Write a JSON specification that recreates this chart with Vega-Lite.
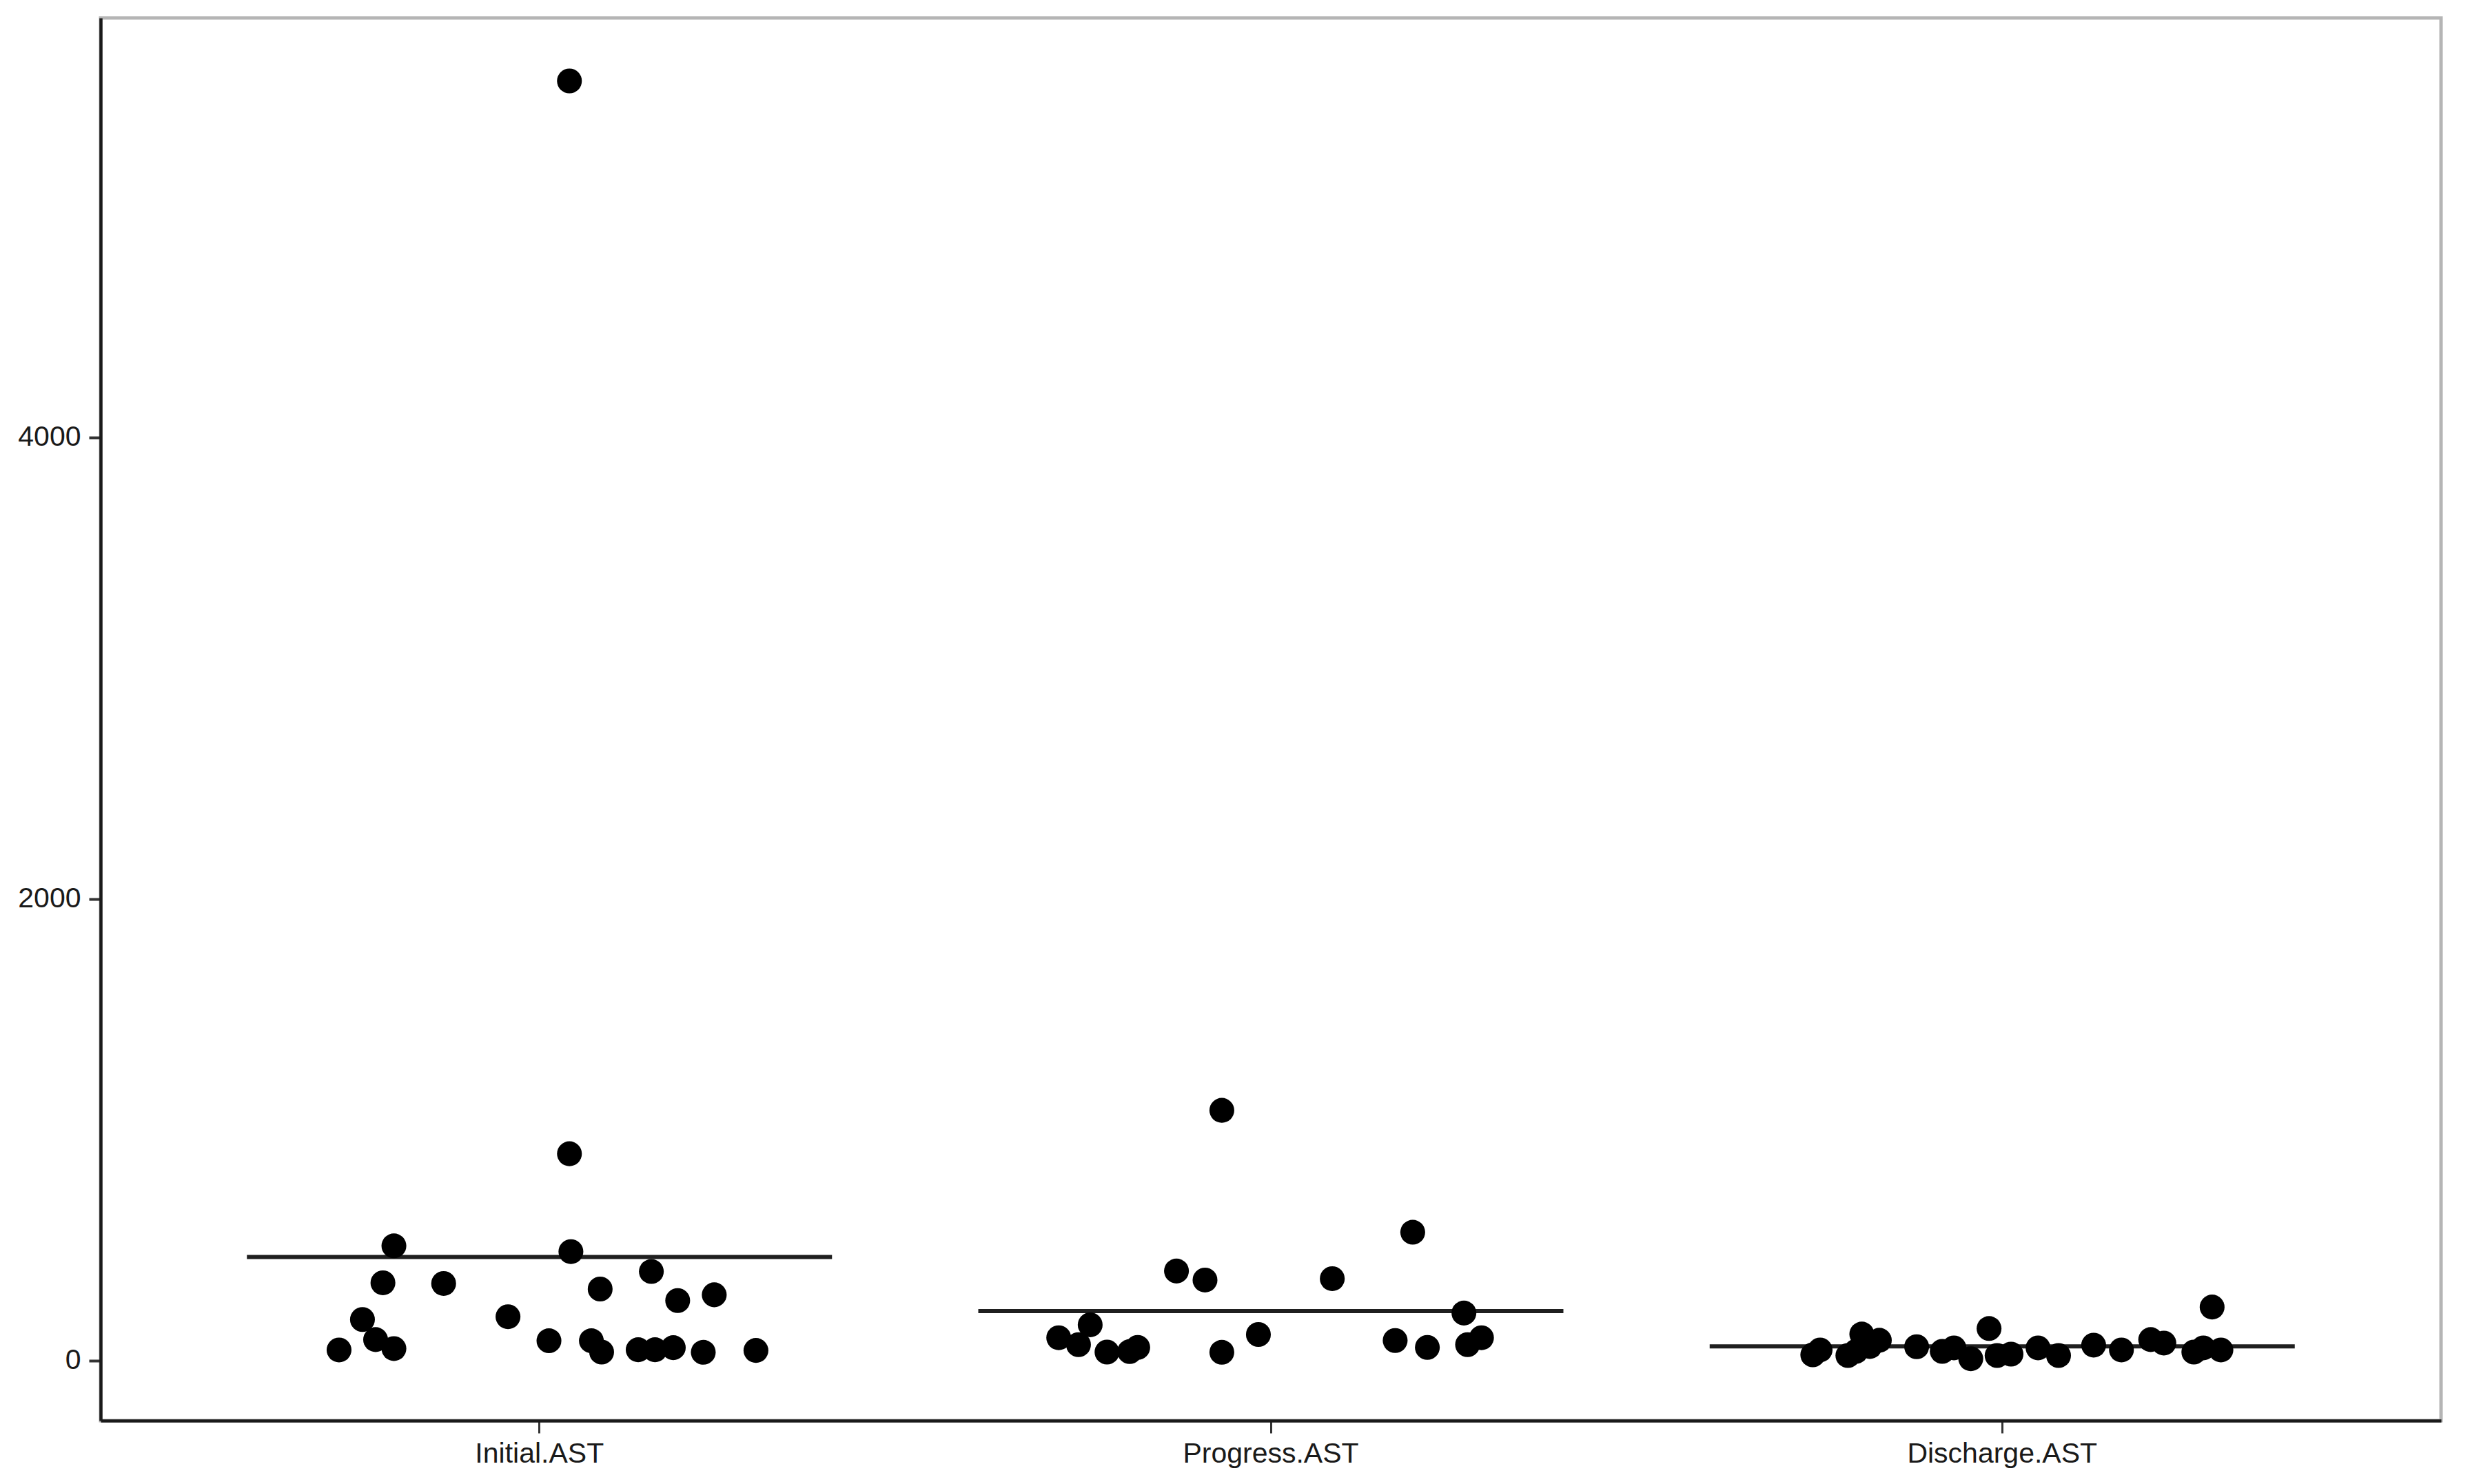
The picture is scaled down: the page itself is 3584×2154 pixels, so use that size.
{
  "$schema": "https://vega.github.io/schema/vega-lite/v6.json",
  "autosize": {"type": "none"},
  "padding": {"left": 146, "top": 26, "right": 42, "bottom": 92},
  "width": 3396,
  "height": 2036,
  "background": "white",
  "config": {
    "view": {"stroke": "#b5b5b5", "strokeWidth": 5},
    "font": "Liberation Sans"
  },
  "datasets": {
    "points": [
      {"stage": "Initial.AST", "AST": 5543, "jitter": 0.041},
      {"stage": "Initial.AST", "AST": 896, "jitter": 0.041},
      {"stage": "Initial.AST", "AST": 497, "jitter": -0.199},
      {"stage": "Initial.AST", "AST": 472, "jitter": 0.043},
      {"stage": "Initial.AST", "AST": 386, "jitter": 0.153},
      {"stage": "Initial.AST", "AST": 337, "jitter": -0.214},
      {"stage": "Initial.AST", "AST": 334, "jitter": -0.131},
      {"stage": "Initial.AST", "AST": 310, "jitter": 0.083},
      {"stage": "Initial.AST", "AST": 260, "jitter": 0.189},
      {"stage": "Initial.AST", "AST": 285, "jitter": 0.239},
      {"stage": "Initial.AST", "AST": 178, "jitter": -0.242},
      {"stage": "Initial.AST", "AST": 190, "jitter": -0.043},
      {"stage": "Initial.AST", "AST": 46, "jitter": -0.274},
      {"stage": "Initial.AST", "AST": 91, "jitter": -0.224},
      {"stage": "Initial.AST", "AST": 52, "jitter": -0.199},
      {"stage": "Initial.AST", "AST": 86, "jitter": 0.013},
      {"stage": "Initial.AST", "AST": 86, "jitter": 0.071},
      {"stage": "Initial.AST", "AST": 37, "jitter": 0.085},
      {"stage": "Initial.AST", "AST": 47, "jitter": 0.135},
      {"stage": "Initial.AST", "AST": 47, "jitter": 0.158},
      {"stage": "Initial.AST", "AST": 56, "jitter": 0.183},
      {"stage": "Initial.AST", "AST": 36, "jitter": 0.224},
      {"stage": "Initial.AST", "AST": 44, "jitter": 0.296},
      {"stage": "Progress.AST", "AST": 1084, "jitter": -0.067},
      {"stage": "Progress.AST", "AST": 388, "jitter": -0.129},
      {"stage": "Progress.AST", "AST": 349, "jitter": -0.09},
      {"stage": "Progress.AST", "AST": 355, "jitter": 0.084},
      {"stage": "Progress.AST", "AST": 556, "jitter": 0.194},
      {"stage": "Progress.AST", "AST": 206, "jitter": 0.264},
      {"stage": "Progress.AST", "AST": 99, "jitter": -0.29},
      {"stage": "Progress.AST", "AST": 155, "jitter": -0.247},
      {"stage": "Progress.AST", "AST": 69, "jitter": -0.263},
      {"stage": "Progress.AST", "AST": 37, "jitter": -0.224},
      {"stage": "Progress.AST", "AST": 39, "jitter": -0.193},
      {"stage": "Progress.AST", "AST": 57, "jitter": -0.182},
      {"stage": "Progress.AST", "AST": 36, "jitter": -0.067},
      {"stage": "Progress.AST", "AST": 113, "jitter": -0.017},
      {"stage": "Progress.AST", "AST": 87, "jitter": 0.17},
      {"stage": "Progress.AST", "AST": 57, "jitter": 0.214},
      {"stage": "Progress.AST", "AST": 69, "jitter": 0.269},
      {"stage": "Progress.AST", "AST": 99, "jitter": 0.288},
      {"stage": "Discharge.AST", "AST": 25, "jitter": -0.259},
      {"stage": "Discharge.AST", "AST": 46, "jitter": -0.249},
      {"stage": "Discharge.AST", "AST": 22, "jitter": -0.211},
      {"stage": "Discharge.AST", "AST": 40, "jitter": -0.2},
      {"stage": "Discharge.AST", "AST": 115, "jitter": -0.192},
      {"stage": "Discharge.AST", "AST": 61, "jitter": -0.181},
      {"stage": "Discharge.AST", "AST": 88, "jitter": -0.168},
      {"stage": "Discharge.AST", "AST": 60, "jitter": -0.117},
      {"stage": "Discharge.AST", "AST": 40, "jitter": -0.082},
      {"stage": "Discharge.AST", "AST": 55, "jitter": -0.066},
      {"stage": "Discharge.AST", "AST": 8, "jitter": -0.043},
      {"stage": "Discharge.AST", "AST": 139, "jitter": -0.018},
      {"stage": "Discharge.AST", "AST": 22, "jitter": -0.007},
      {"stage": "Discharge.AST", "AST": 28, "jitter": 0.012},
      {"stage": "Discharge.AST", "AST": 55, "jitter": 0.049},
      {"stage": "Discharge.AST", "AST": 22, "jitter": 0.077},
      {"stage": "Discharge.AST", "AST": 67, "jitter": 0.125},
      {"stage": "Discharge.AST", "AST": 46, "jitter": 0.163},
      {"stage": "Discharge.AST", "AST": 91, "jitter": 0.203},
      {"stage": "Discharge.AST", "AST": 76, "jitter": 0.221},
      {"stage": "Discharge.AST", "AST": 37, "jitter": 0.262},
      {"stage": "Discharge.AST", "AST": 55, "jitter": 0.275},
      {"stage": "Discharge.AST", "AST": 232, "jitter": 0.287},
      {"stage": "Discharge.AST", "AST": 46, "jitter": 0.299}
    ]
  },
  "data": {"name": "points"},
  "encoding": {
    "x": {
      "field": "stage",
      "type": "nominal",
      "sort": ["Initial.AST", "Progress.AST", "Discharge.AST"],
      "scale": {"paddingInner": 0, "paddingOuter": 0.1},
      "axis": {
        "title": null,
        "labelAngle": 0,
        "labelLimit": 0,
        "labelFont": "Liberation Sans",
        "labelFontSize": 41,
        "labelColor": "#1a1a1a",
        "labelPadding": 10,
        "tickSize": 18,
        "tickWidth": 3,
        "tickColor": "#333333",
        "domainColor": "#1a1a1a",
        "domainWidth": 4.5,
        "grid": false
      }
    },
    "y": {
      "field": "AST",
      "type": "quantitative",
      "scale": {"domain": [-260, 5816], "nice": false, "zero": false},
      "axis": {
        "title": null,
        "values": [0, 2000, 4000],
        "format": "d",
        "labelFont": "Liberation Sans",
        "labelFontSize": 41,
        "labelColor": "#1a1a1a",
        "labelPadding": 12,
        "tickSize": 17,
        "tickWidth": 4,
        "tickColor": "#333333",
        "domainColor": "#1a1a1a",
        "domainWidth": 4.5,
        "grid": false
      }
    }
  },
  "layer": [
    {
      "mark": {"type": "tick", "size": 849, "thickness": 6, "color": "#1f1f1f", "orient": "horizontal"},
      "encoding": {
        "y": {"field": "AST", "type": "quantitative", "aggregate": "mean"}
      }
    },
    {
      "mark": {"type": "circle", "size": 1300, "color": "black", "opacity": 1},
      "encoding": {
        "xOffset": {
          "field": "jitter",
          "type": "quantitative",
          "scale": {"domain": [-0.5, 0.5], "zero": false, "nice": false}
        }
      }
    }
  ]
}
